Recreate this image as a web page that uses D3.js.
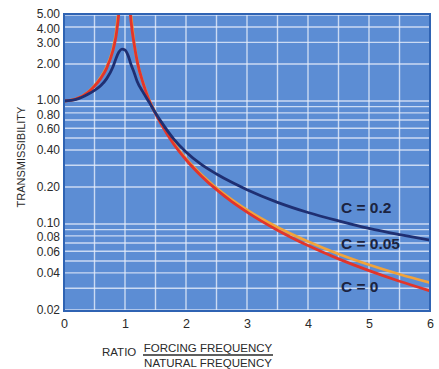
<!DOCTYPE html>
<html>
<head>
<meta charset="utf-8">
<script src="https://cdn.jsdelivr.net/npm/d3@7"></script>
<style>
  body { margin: 0; background: #fff; }
  svg { display: block; font-family: "Liberation Sans", Arial, sans-serif; }
</style>
</head>
<body>
<svg id="chart" width="439" height="369"></svg>
<script>
// frequency ratio (forcing / natural)
const ratios = [0, 0.2, 0.4, 0.5, 0.6, 0.7, 0.8, 0.85, 0.9, 0.95, 1.0, 1.05, 1.1, 1.15, 1.2, 1.3, 1.4, 1.5,
    1.6, 1.8, 2.0, 2.25, 2.5, 2.75, 3, 3.5, 4, 4.5, 5, 5.5, 6]
// transmissibility (null = off the chart)
const c0 = [1.0, 1.04, 1.18, 1.32, 1.52, 1.85, 2.55, 3.3, 5.2, 10, null, 9, 4.4, 2.9, 2.1, 1.38, 1.0, 0.79,
    0.64, 0.445, 0.333, 0.246, 0.19, 0.152, 0.125, 0.089, 0.0667, 0.052, 0.0417, 0.0342, 0.0286]
const c005 = [1.0, 1.04, 1.19, 1.33, 1.55, 1.9, 2.62, 3.5, 5.6, 7.4, 10, 6.9, 4.8, 2.95, 2.1, 1.39, 1.01, 0.8,
    0.645, 0.452, 0.339, 0.252, 0.196, 0.158, 0.130, 0.094, 0.072, 0.057, 0.0466, 0.039, 0.0333]
const c02 = [1.0, 1.03, 1.14, 1.22, 1.33, 1.52, 1.88, 2.2, 2.5, 2.64, 2.6, 2.35, 1.97, 1.7, 1.44, 1.17, 0.97, 0.8,
    0.67, 0.49, 0.385, 0.305, 0.255, 0.218, 0.19, 0.15, 0.124, 0.106, 0.092, 0.082, 0.074]

const yTickLabels = [5, 4, 3, 2, 1, 0.8, 0.6, 0.4, 0.2, 0.1, 0.08, 0.06, 0.04, 0.02]
const yGrid = [0.02, 0.03, 0.04, 0.05, 0.06, 0.07, 0.08, 0.09, 0.1, 0.2, 0.3, 0.4, 0.5, 0.6, 0.7, 0.8, 0.9, 1, 2, 3, 4, 5]
const xTickLabels = [0, 1, 2, 3, 4, 5, 6]
const xGrid = [0.5, 1, 1.5, 2, 2.5, 3, 3.5, 4, 4.5, 5, 5.5]

const labelNames = ["C = 0.2", "C = 0.05", "C = 0"]
const labelR = [4.54, 4.54, 4.54]
const labelT = [0.123, 0.0627, 0.0279]

const margin = { top: 14, right: 9, bottom: 58, left: 64 },
    width = 439 - margin.left - margin.right,
    height = 369 - margin.top - margin.bottom;

const svg = d3.select("#chart")
const g = svg.append("g").attr("transform", "translate(" + margin.left + "," + margin.top + ")")

const x = d3.scaleLinear().domain([0, 6]).range([0, width])
const y = d3.scaleLog().domain([0.0196, 5.1]).range([height, 0])

g.append("rect")
    .attr("width", width)
    .attr("height", height)
    .attr("fill", "#5c8dd4")

g.append("clipPath").attr("id", "plotClip")
    .append("rect").attr("width", width).attr("height", height)

// grid
g.selectAll(".hgrid").data(yGrid).enter().append("line")
    .attr("class", "hgrid")
    .attr("x1", 0).attr("x2", width)
    .attr("y1", d => y(d)).attr("y2", d => y(d))
    .attr("stroke", "#e6eefa").attr("stroke-opacity", 0.8).attr("stroke-width", 1.4)
g.selectAll(".vgrid").data(xGrid).enter().append("line")
    .attr("class", "vgrid")
    .attr("y1", 0).attr("y2", height)
    .attr("x1", d => x(d)).attr("x2", d => x(d))
    .attr("stroke", "#e6eefa").attr("stroke-opacity", 0.8).attr("stroke-width", 1.4)

// curves
const line = d3.line()
    .defined(d => d[1] != null)
    .x(d => x(d[0]))
    .y(d => y(d[1]))
    .curve(d3.curveMonotoneX)

const series = [
    { vals: c005, color: "#f2a33a" },
    { vals: c0, color: "#e2352b" },
    { vals: c02, color: "#1f2f72" }
]
const curves = g.append("g").attr("clip-path", "url(#plotClip)")
series.forEach(s => {
    curves.append("path")
        .datum(ratios.map((r, i) => [r, s.vals[i]]))
        .attr("d", line)
        .attr("fill", "none")
        .attr("stroke", s.color)
        .attr("stroke-width", 2.8)
        .attr("stroke-linejoin", "round")
})

// plot border
g.append("rect")
    .attr("width", width)
    .attr("height", height)
    .attr("fill", "none")
    .attr("stroke", "#2f63b3")
    .attr("stroke-width", 2)

// curve labels
g.selectAll(".clabel").data(labelNames).enter().append("text")
    .attr("class", "clabel")
    .attr("x", (d, i) => x(labelR[i]))
    .attr("y", (d, i) => y(labelT[i]))
    .attr("font-size", 15.5)
    .attr("font-weight", "bold")
    .attr("fill", "#1b2340")
    .text(d => d)

// axes
const yAxis = g.append("g")
    .call(d3.axisLeft(y).tickValues(yTickLabels).tickFormat(d3.format(".2f")).tickSize(0).tickPadding(4))
yAxis.select(".domain").remove()
// the crowded labels are pushed apart a little, like in the original
const nudge = { 5: -1.5, 4: 1.5, 1: -1.5, 0.8: 1.5, 0.1: -1.5, 0.08: 1 }
yAxis.selectAll("text").attr("font-size", 12).attr("fill", "#2a2a2a")
    .attr("font-family", "'Liberation Sans', Arial, sans-serif")
    .attr("y", d => nudge[d] || 0)

const xAxis = g.append("g")
    .attr("transform", "translate(0," + height + ")")
    .call(d3.axisBottom(x).tickValues(xTickLabels).tickFormat(d3.format("d")).tickSize(0).tickPadding(8))
xAxis.select(".domain").remove()
xAxis.selectAll("text").attr("font-size", 12.5).attr("fill", "#2a2a2a")
    .attr("font-family", "'Liberation Sans', Arial, sans-serif")

// axis titles
svg.append("text")
    .attr("transform", "translate(25,157) rotate(-90)")
    .attr("text-anchor", "middle")
    .attr("font-size", 11)
    .attr("fill", "#2a2a2a")
    .text("TRANSMISSIBILITY")

svg.append("text")
    .attr("x", 102).attr("y", 356)
    .attr("font-size", 11.5)
    .attr("fill", "#2a2a2a")
    .text("RATIO")

svg.append("text")
    .attr("x", 208).attr("y", 352)
    .attr("text-anchor", "middle")
    .attr("font-size", 11.5)
    .attr("fill", "#2a2a2a")
    .text("FORCING FREQUENCY")
svg.append("line")
    .attr("x1", 143).attr("x2", 273)
    .attr("y1", 355).attr("y2", 355)
    .attr("stroke", "#2a2a2a").attr("stroke-width", 1.3)
svg.append("text")
    .attr("x", 208).attr("y", 367)
    .attr("text-anchor", "middle")
    .attr("font-size", 11.5)
    .attr("fill", "#2a2a2a")
    .text("NATURAL FREQUENCY")
</script>
</body>
</html>
